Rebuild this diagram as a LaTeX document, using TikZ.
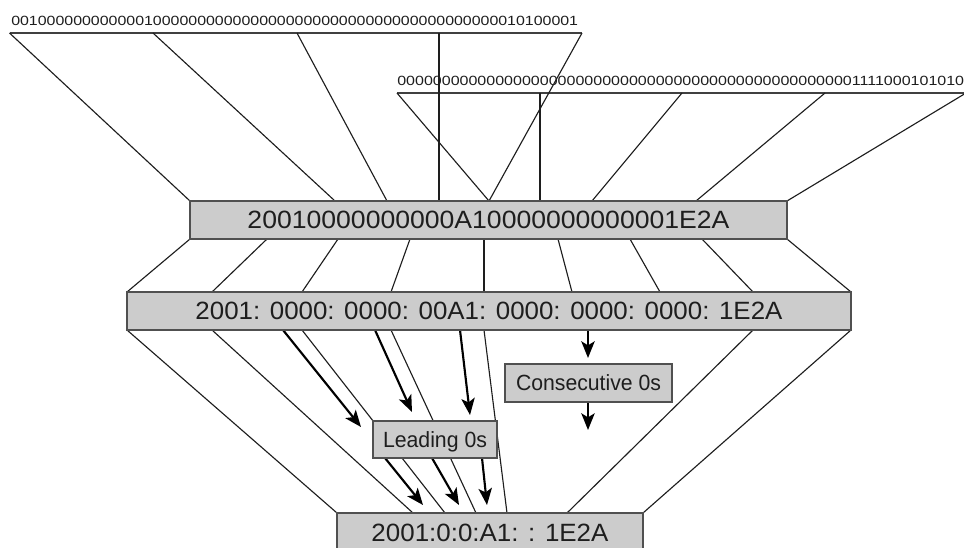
\documentclass[tikz,border=0pt]{standalone}
\usepackage{fontspec}
\setmainfont{Liberation Sans}
\usepackage{graphicx}
\usetikzlibrary{arrows.meta}
\definecolor{boxfill}{RGB}{204,204,204}
\definecolor{boxline}{RGB}{80,80,80}
\definecolor{ink}{RGB}{30,30,30}
\newcommand\bigtxt{\fontsize{18.75}{20}\selectfont}
\newcommand\smalltxt{\fontsize{16.5}{18}\selectfont}
\newcommand\bintxt{\fontsize{10}{12}\selectfont}
\begin{document}
\begin{tikzpicture}[x=0.75pt,y=-0.75pt,
  conn/.style={draw=ink,line width=0.85pt},
  bar/.style={draw=ink!85,line width=1.1pt},
  arr/.style={draw=black,line width=1.6pt,-{Stealth[length=12.5pt,width=10pt,inset=3pt]}},
  box/.style={draw=boxline,fill=boxfill,line width=1pt,inner sep=0pt,text depth=0pt,text=ink},
  bin/.style={inner sep=0pt,anchor=west,text=ink}]
\useasboundingbox (0,0) rectangle (964,547);
\clip (0,0) rectangle (964,547);

% ---------- binary strings ----------
\node[bin] (s1) at (11,21) {\resizebox{425.25pt}{\height}{\bintxt 0010000000000001000000000000000000000000000000000000000010100001}};
\node[bin] (s2) at (397,81) {\resizebox{425.25pt}{\height}{\bintxt 0000000000000000000000000000000000000000000000000001111000101010}};

\coordinate (t1L) at (9.5,33);  \coordinate (t1b) at (153,33);
\coordinate (t1c) at (297,33);  \coordinate (t1d) at (439,33);
\coordinate (t1R) at (582,33);
\coordinate (t2L) at (397,93);  \coordinate (t2b) at (540,93);
\coordinate (t2c) at (682,93);  \coordinate (t2d) at (825,93);
\coordinate (t2R) at (966,93);

% ---------- box 1 edge points ----------
\coordinate (a1) at (190,201); \coordinate (a2) at (335,201); \coordinate (a3) at (387,201);
\coordinate (a4) at (439,201); \coordinate (a5) at (489,201); \coordinate (a6) at (540,201);
\coordinate (a7) at (592,201); \coordinate (a8) at (696,201); \coordinate (a9) at (787,201);

\coordinate (b1) at (190,239); \coordinate (b2) at (267,239); \coordinate (b3) at (338,239);
\coordinate (b4) at (410,239); \coordinate (b5) at (484,239); \coordinate (b6) at (558,239);
\coordinate (b7) at (630,239); \coordinate (b8) at (702,239); \coordinate (b9) at (787,239);

% ---------- box 2 edge points ----------
\coordinate (c1) at (127,292); \coordinate (c2) at (212,292); \coordinate (c3) at (302,292);
\coordinate (c4) at (391,292); \coordinate (c5) at (484,292); \coordinate (c6) at (572,292);
\coordinate (c7) at (660,292); \coordinate (c8) at (753,292); \coordinate (c9) at (851,292);

\coordinate (d1) at (127,330); \coordinate (d2) at (212,330); \coordinate (dA1) at (283,330);
\coordinate (d3) at (302,330); \coordinate (dA2) at (375,330); \coordinate (d4) at (391,330);
\coordinate (dA3) at (460,330); \coordinate (d5) at (484,330); \coordinate (dA4) at (588,330);
\coordinate (d6) at (753,330); \coordinate (d7) at (851,330);

% ---------- bottom box edge points ----------
\coordinate (e1) at (337,513); \coordinate (e2) at (413,513); \coordinate (e3) at (445,513);
\coordinate (e4) at (476,513); \coordinate (e5) at (507,513); \coordinate (e6) at (567,513);
\coordinate (e7) at (643,513);

% ---------- arrow end points ----------
\coordinate (p1) at (361,427); \coordinate (p2) at (412,412); \coordinate (p3) at (470,415);
\coordinate (q1s) at (385,458); \coordinate (q1) at (423,505);
\coordinate (q2s) at (432,458); \coordinate (q2) at (459,505);
\coordinate (q3s) at (482,458); \coordinate (q3) at (487,505);
\coordinate (r1) at (588,358); \coordinate (r2s) at (588,402); \coordinate (r2) at (588,430);

% ---------- bars ----------
\draw[bar] (t1L) -- (t1R);
\draw[bar] (t2L) -- (t2R);

% ---------- connectors: strings -> box 1 ----------
\draw[conn] (t1L) -- (a1);
\draw[conn] (t1b) -- (a2);
\draw[conn] (t1c) -- (a3);
\draw[conn] (t1d) -- (a4);
\draw[conn] (t1R) -- (a5);
\draw[conn] (t2L) -- (a5);
\draw[conn] (t2b) -- (a6);
\draw[conn] (t2c) -- (a7);
\draw[conn] (t2d) -- (a8);
\draw[conn] (t2R) -- (a9);

% ---------- box 1 -> box 2 ----------
\draw[conn] (b1) -- (c1);
\draw[conn] (b2) -- (c2);
\draw[conn] (b3) -- (c3);
\draw[conn] (b4) -- (c4);
\draw[conn] (b5) -- (c5);
\draw[conn] (b6) -- (c6);
\draw[conn] (b7) -- (c7);
\draw[conn] (b8) -- (c8);
\draw[conn] (b9) -- (c9);

% ---------- box 2 -> bottom box ----------
\draw[conn] (d1) -- (e1);
\draw[conn] (d2) -- (e2);
\draw[conn] (d3) -- (e3);
\draw[conn] (d4) -- (e4);
\draw[conn] (d5) -- (e5);
\draw[conn] (d6) -- (e6);
\draw[conn] (d7) -- (e7);

% ---------- arrows ----------
\draw[arr] (dA1) -- (p1);
\draw[arr] (dA2) -- (p2);
\draw[arr] (dA3) -- (p3);
\draw[arr] (q1s) -- (q1);
\draw[arr] (q2s) -- (q2);
\draw[arr] (q3s) -- (q3);
\draw[arr] (dA4) -- (r1);
\draw[arr] (r2s) -- (r2);

% ---------- boxes ----------
\node[box,minimum width=447.75pt,minimum height=28.5pt] (box1) at (488.5,220)
  {\resizebox{361.5pt}{\height}{\bigtxt 20010000000000A10000000000001E2A}};
\node[box,minimum width=543pt,minimum height=28.5pt] (box2) at (489,311)
  {\resizebox{440.25pt}{\height}{\bigtxt 2001: 0000: 0000: 00A1: 0000: 0000: 0000: 1E2A}};
\node[box,minimum width=125.25pt,minimum height=28.5pt] (cons) at (588.5,383)
  {\resizebox{108.75pt}{\height}{\smalltxt Consecutive 0s}};
\node[box,minimum width=93pt,minimum height=27.75pt] (lead) at (435,439.5)
  {\resizebox{78pt}{\height}{\smalltxt Leading 0s}};
\node[box,minimum width=229.5pt,minimum height=30pt] (box3) at (490,533)
  {\resizebox{177.75pt}{\height}{\bigtxt 2001:0:0:A1: : 1E2A}};
\end{tikzpicture}
\end{document}
